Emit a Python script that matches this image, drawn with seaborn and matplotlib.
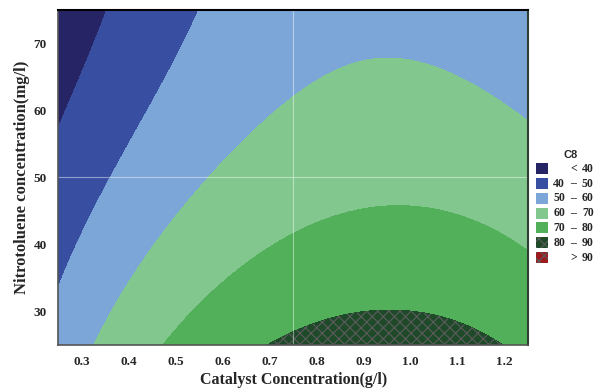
import numpy as np
import matplotlib
matplotlib.use("Agg")
import matplotlib.pyplot as plt
import matplotlib.patches as mpatches
import matplotlib.colors as mcolors
import seaborn as sns

# Iso-response traces of C8 (catalyst g/l, nitrotoluene mg/l) at each contour level
c40_x = [0.353, 0.307, 0.259, 0.250]
c40_y = [75.0, 66.8, 58.6, 57.6]

c50_x = [0.551, 0.491, 0.431, 0.360, 0.300, 0.258, 0.250]
c50_y = [75.0, 66.8, 58.6, 50.0, 41.4, 34.7, 34.3]

c60_x = [0.325, 0.385, 0.477, 0.548, 0.569, 0.629, 0.700, 0.753, 0.834,
         0.912, 0.955, 1.025, 1.124, 1.195, 1.248]
c60_y = [25.0, 32.2, 42.2, 48.1, 50.0, 54.4, 59.3, 62.0, 65.8,
         67.6, 67.9, 67.2, 64.3, 60.8, 58.6]

c70_x = [0.473, 0.541, 0.633, 0.753, 0.813, 0.884, 0.955, 1.025, 1.096, 1.188, 1.250]
c70_y = [25.0, 29.8, 36.7, 41.6, 43.7, 45.2, 45.8, 45.4, 44.4, 41.7, 39.2]

c80_x = [0.696, 0.742, 0.813, 0.884, 0.948, 1.025, 1.096, 1.167, 1.195]
c80_y = [25.0, 27.0, 28.8, 29.9, 30.3, 29.8, 28.3, 26.3, 25.0]

levels = [40, 50, 60, 70, 80, 90]
band_colors = ["#262464", "#384EA0", "#7CA6D8", "#82C88E", "#52B05A", "#1F4A2A", "#9B1C1E"]
band_hatches = [None, None, None, None, None, "xxx", "xxx"]
band_labels = [("", "<", "40"), ("40", "\u2013", "50"), ("50", "\u2013", "60"),
               ("60", "\u2013", "70"), ("70", "\u2013", "80"), ("80", "\u2013", "90"),
               ("", ">", "90")]
x_ticks = [0.3, 0.4, 0.5, 0.6, 0.7, 0.8, 0.9, 1.0, 1.1, 1.2]
y_ticks = [30, 40, 50, 60, 70]

HATCH_COLOR = "#5c5c5c"

sns.set_style("white")
plt.rcParams["font.family"] = ["Liberation Serif", "DejaVu Serif"]
plt.rcParams["hatch.color"] = HATCH_COLOR
plt.rcParams["hatch.linewidth"] = 0.8

# Biquadratic response surface fitted through the traced iso-lines
pts_x = np.array(c40_x + c50_x + c60_x + c70_x + c80_x)
pts_y = np.array(c40_y + c50_y + c60_y + c70_y + c80_y)
pts_z = np.array([40] * len(c40_x) + [50] * len(c50_x) + [60] * len(c60_x)
                 + [70] * len(c70_x) + [80] * len(c80_x), dtype=float)


def basis(x, y):
    u = (np.asarray(x) - 0.75) / 0.5
    v = (np.asarray(y) - 50.0) / 25.0
    return np.stack([u ** i * v ** j for i in range(3) for j in range(3)], axis=-1)


coef, *_ = np.linalg.lstsq(basis(pts_x, pts_y), pts_z, rcond=None)

gx = np.linspace(0.25, 1.25, 401)
gy = np.linspace(25, 75, 401)
GX, GY = np.meshgrid(gx, gy)
GZ = basis(GX, GY) @ coef

fig = plt.figure(figsize=(5.95, 3.89), dpi=100)
ax = fig.add_axes([58.1 / 595, 1 - 345 / 389, (528.3 - 58.1) / 595, (345 - 9.8) / 389])

bounds = [-1000] + levels + [1000]
cs = ax.contourf(GX, GY, GZ, levels=bounds, colors=band_colors, hatches=band_hatches)
# grey cross-hatching on the top bands
if hasattr(cs, "set_hatchcolor"):
    cs.set_hatchcolor(HATCH_COLOR)
else:
    cs._hatch_color = mcolors.to_rgba(HATCH_COLOR)

ax.axvline(0.75, color="white", alpha=0.45, lw=0.8)
ax.axhline(50, color="white", alpha=0.45, lw=0.8)

ax.set_xlim(0.25, 1.25)
ax.set_ylim(25, 75)
ax.set_xticks(x_ticks)
ax.set_xticklabels([f"{t:.1f}" for t in x_ticks])
ax.set_yticks(y_ticks)
ax.set_yticklabels([str(t) for t in y_ticks])
ax.tick_params(axis="both", direction="out", length=5, width=1, color="black",
               labelsize=9.5, pad=3)
for lab in ax.get_xticklabels() + ax.get_yticklabels():
    lab.set_fontweight("bold")

for side in ["left", "bottom"]:
    ax.spines[side].set_color("#555555")
    ax.spines[side].set_linewidth(1.2)
ax.spines["top"].set_color("black")
ax.spines["top"].set_linewidth(1.5)
ax.spines["right"].set_color("#2f3f33")
ax.spines["right"].set_linewidth(1.5)

ax.set_xlabel("Catalyst Concentration(g/l)", fontsize=11.5, fontweight="bold", labelpad=3)
ax.set_ylabel("Nitrotoluene concentration(mg/l)", fontsize=12, fontweight="bold", labelpad=3)

# Legend key drawn in figure pixel space
W, H = 595.0, 389.0


def fx(px):
    return px / W


def fy(py):
    return 1 - py / H


fig.text(fx(571), fy(158), "C8", ha="center", va="baseline", fontsize=8,
         fontweight="bold", family=["Liberation Sans", "DejaVu Sans"])
for i, (color, hatch, (lo, sep, hi)) in enumerate(zip(band_colors, band_hatches, band_labels)):
    cy = 168.5 + 14.85 * i
    rect = mpatches.Rectangle((fx(536), fy(cy + 5.5)), 11.5 / W, 11 / H,
                              transform=fig.transFigure, facecolor=color,
                              edgecolor=HATCH_COLOR, linewidth=0, hatch=hatch)
    fig.patches.append(rect)
    base = fy(cy + 3.2)
    if lo:
        fig.text(fx(565), base, lo, ha="right", va="baseline", fontsize=8.5, fontweight="bold")
    fig.text(fx(573.5), base, sep, ha="center", va="baseline", fontsize=8.5, fontweight="bold")
    fig.text(fx(582), base, hi, ha="left", va="baseline", fontsize=8.5, fontweight="bold")

fig.savefig("out.png", dpi=100, facecolor="white")
